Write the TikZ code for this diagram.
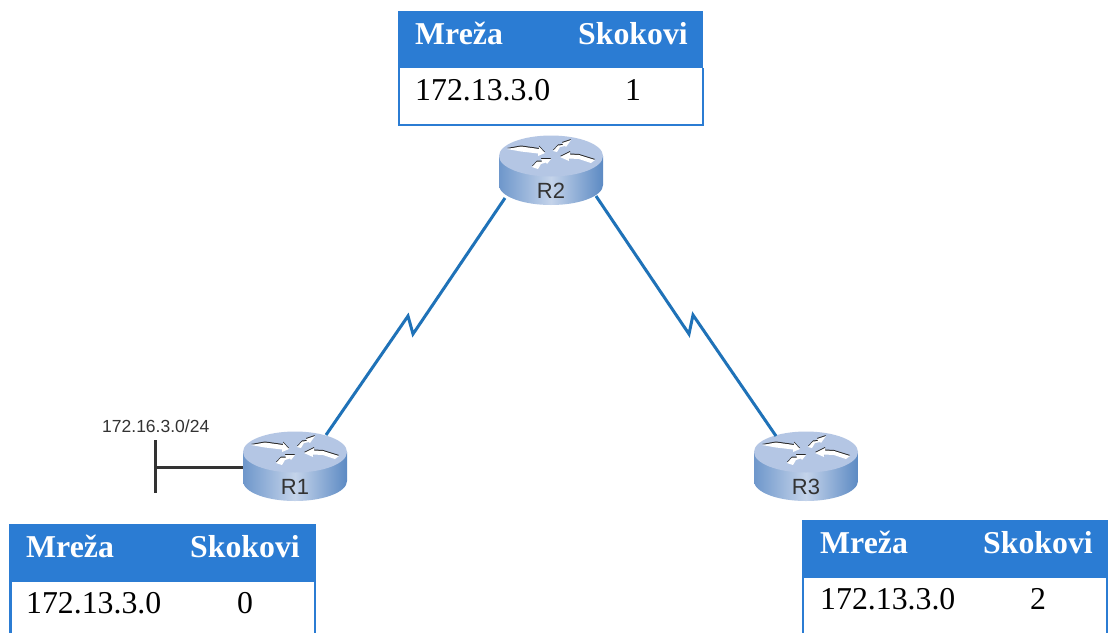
\documentclass[tikz,border=0pt]{standalone}
\usepackage{fontspec}
\setmainfont{Liberation Serif}
\newfontfamily\labelfont{Liberation Sans}
\definecolor{hdr}{HTML}{2B7CD3}
\definecolor{link}{HTML}{1F72B8}
\definecolor{dark}{HTML}{333333}
\definecolor{rtop}{HTML}{B4C6E4}
\definecolor{rl}{HTML}{6E97CB}
\definecolor{rm}{HTML}{C4D3EA}
\definecolor{rr}{HTML}{5C8AC3}
\tikzset{
  hdrtext/.style={anchor=base west,inner sep=0pt,text=white,font=\fontsize{31.8}{34}\selectfont\bfseries},
  celltext/.style={anchor=base west,inner sep=0pt,text=black,font=\fontsize{31.8}{34}\selectfont},
  hopstext/.style={anchor=base,inner sep=0pt,text=black,font=\fontsize{31.8}{34}\selectfont},
  rlabel/.style={anchor=base,inner sep=0pt,text=dark,font=\labelfont\fontsize{22}{24}\selectfont},
  netlabel/.style={anchor=base west,inner sep=0pt,text=dark,font=\labelfont\fontsize{17.5}{19}\selectfont},
  serial/.style={draw=link,line width=3pt,line join=miter},
  bus/.style={draw=dark,line width=3pt},
  tblborder/.style={draw=hdr,line width=2pt},
  router/.pic={
    \begin{scope}
      \clip (-52,0) -- (-52,29) arc[start angle=180,end angle=0,x radius=52,y radius=20] -- (52,0) -- cycle;
      \shade[left color=rl,right color=rr,middle color=rm] (-52,-1) rectangle (52,50);
    \end{scope}
    \fill[rtop] (0,0) ellipse[x radius=52,y radius=20.5];
    \foreach \dy/\col in {-1/black!85,0/white}{
      \fill[\col,shift={(0,\dy)}] (-44,-7) -- (-30,-9.5) -- (-12,-7) -- (-12,-9.5) -- (-6,-3) -- (-13,0) -- (-13,-2.5) -- (-30,-4.5) -- cycle;
      \fill[\col,shift={(0,\dy)}] (2,-5) -- (7,-10.5) -- (12,-11) -- (11,-13) -- (20,-16) -- (15,-9) -- (14,-10) -- (9,-9) -- (6,-4) -- cycle;
      \fill[\col,shift={(0,\dy)}] (44,4) -- (28,-1) -- (19,-1.5) -- (19,-4) -- (9,1) -- (18,5) -- (18,2.5) -- (28,3) -- (40,7) -- cycle;
      \fill[\col,shift={(0,\dy)}] (-19,11) -- (-14,5.5) -- (-9,5.5) -- (-10,3) -- (0,3) -- (-4,8) -- (-5,6.5) -- (-10,8) -- (-13,13) -- cycle;
    }
  }
}
\begin{document}
\begin{tikzpicture}[x=1pt,y=-1pt]
\useasboundingbox[fill=white] (0,0) rectangle (1108,633);
% routers
\pic at (551,156) {router};
\pic at (295,452) {router};
\pic at (806,452) {router};
\node[rlabel] (r2) at (551,198) {R2};
\node[rlabel] (r1) at (295,494) {R1};
\node[rlabel] (r3) at (806,494) {R3};
\coordinate (r2sw) at (505,198);
\coordinate (r2se) at (596,196);
\coordinate (r1ne) at (326,435);
\coordinate (r3nw) at (776,436);
\coordinate (r1w) at (243,467);
% serial links
\draw[serial] (r1ne) -- (408,316) -- (413,334) -- (r2sw);
\draw[serial] (r2se) -- (689,334) -- (693,315) -- (r3nw);
% LAN
\coordinate (bustop) at (155,440);
\coordinate (busbot) at (155,493);
\coordinate (busmid) at (155,467);
\draw[bus] (bustop) -- (busbot);
\draw[bus] (busmid) -- (r1w);
\node[netlabel] (net) at (102,432) {172.16.3.0/24};
% table R2
\fill[hdr] (398,11) rectangle (703,68);
\draw[tblborder] (399,68) -- (399,124.500) -- (702.500,124.500) -- (702.500,68);
\node[hdrtext] (t2a) at (415,44) {Mreža};
\node[hdrtext] (t2b) at (578,44) {Skokovi};
\node[celltext] (t2c) at (415,100) {172.13.3.0};
\node[hopstext] (t2d) at (633,100) {1};
% table R1
\fill[hdr] (9,524) rectangle (316,582);
\draw[hdr,line width=3pt] (10.500,582) -- (10.500,633);
\draw[tblborder] (315,582) -- (315,633);
\node[hdrtext] (t1a) at (26,557) {Mreža};
\node[hdrtext] (t1b) at (190,557) {Skokovi};
\node[celltext] (t1c) at (26,613) {172.13.3.0};
\node[hopstext] (t1d) at (245,613) {0};
% table R3
\fill[hdr] (802,520) rectangle (1108,578);
\draw[tblborder] (803,578) -- (803,633);
\draw[tblborder] (1107,578) -- (1107,633);
\node[hdrtext] (t3a) at (820,553) {Mreža};
\node[hdrtext] (t3b) at (983,553) {Skokovi};
\node[celltext] (t3c) at (820,609) {172.13.3.0};
\node[hopstext] (t3d) at (1038,609) {2};
\end{tikzpicture}
\end{document}
